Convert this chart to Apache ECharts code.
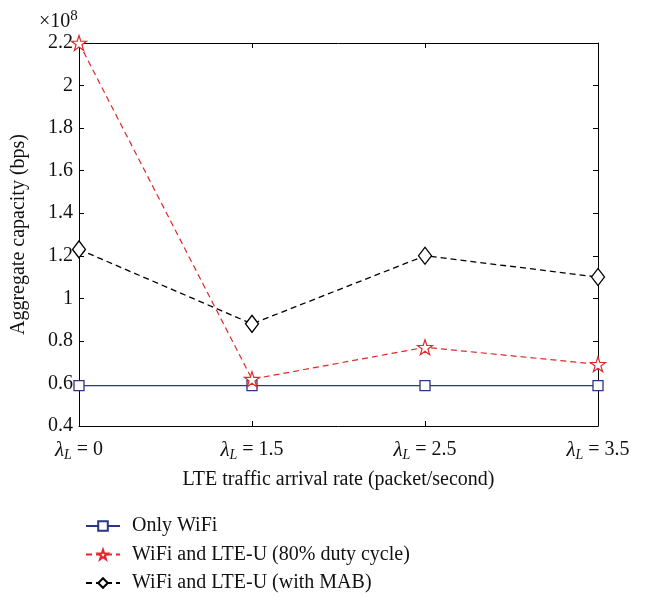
<!DOCTYPE html>
<html>
<head>
<meta charset="utf-8">
<script src="https://cdn.jsdelivr.net/npm/echarts@6/dist/echarts.min.js"></script>
<style>html,body{margin:0;padding:0;background:#fff;}#c{width:655px;height:597px;}</style>
</head>
<body>
<div id="c"></div>
<script>
var categories = ['0', '1.5', '2.5', '3.5'];
var onlyWifi = [0.59, 0.59, 0.59, 0.59];
var lteDuty = [2.2, 0.62, 0.77, 0.69];
var lteMab = [1.23, 0.88, 1.20, 1.10];
var seriesNames = ['Only WiFi', 'WiFi and LTE-U (80% duty cycle)', 'WiFi and LTE-U (with MAB)'];
var yMin = 0.4, yMax = 2.2, yStep = 0.2;

var FONT = '"Liberation Serif", "DejaVu Serif", serif';
var FS = 20;
var starPath = 'path://M50,0 L61.8,35.1 L98.9,35.5 L69.1,57.6 L80.2,93 L50,71.5 L19.8,93 L30.9,57.6 L1.1,35.5 L38.2,35.1 Z';
var chart = echarts.init(document.getElementById('c'));
var tickStyle = {show: true, inside: true, length: 5, lineStyle: {color: '#000', width: 1}};
var option = {
  animation: false,
  backgroundColor: '#fff',
  textStyle: {fontFamily: FONT},
  grid: {left: 79, right: 57, top: 43, bottom: 171, containLabel: false},
  graphic: [{
    type: 'text', left: 39, top: 9,
    style: {
      text: '×10{s|8}',
      rich: {s: {fontSize: 15, verticalAlign: 'top', fontFamily: FONT, padding: [0, 0, 10, 0]}},
      fontSize: FS, fontFamily: FONT, fill: '#111'
    }
  }],
  xAxis: [{
    type: 'category', data: categories, boundaryGap: false, position: 'bottom',
    axisLine: {lineStyle: {color: '#000', width: 1}},
    axisTick: tickStyle,
    splitLine: {show: false},
    axisLabel: {
      interval: 0, hideOverlap: false,
      margin: 12, color: '#111', fontSize: FS, fontFamily: FONT,
      formatter: function (v) { return '{g|λ}{sub|L} = ' + v; },
      rich: {
        g: {fontSize: 21, fontStyle: 'italic', fontFamily: FONT, color: '#111'},
        sub: {fontSize: 14, fontStyle: 'italic', fontFamily: FONT, verticalAlign: 'bottom', padding: [10, 0, 0, 0], color: '#111'}
      }
    },
    name: 'LTE traffic arrival rate (packet/second)', nameLocation: 'middle', nameGap: 44,
    nameTextStyle: {fontSize: FS, fontFamily: FONT, color: '#111'}
  }, {
    type: 'category', data: categories, boundaryGap: false, position: 'top',
    axisLine: {lineStyle: {color: '#000', width: 1}},
    axisTick: tickStyle, axisLabel: {show: false}, splitLine: {show: false}
  }],
  yAxis: [{
    type: 'value', min: yMin, max: yMax, interval: yStep,
    axisLine: {show: true, lineStyle: {color: '#000', width: 1}},
    axisTick: tickStyle,
    splitLine: {show: false},
    axisLabel: {
      margin: 6, color: '#111', fontSize: FS, fontFamily: FONT,
      formatter: function (v) { return String(Math.round(v * 10) / 10); }
    },
    name: 'Aggregate capacity (bps)', nameLocation: 'middle', nameGap: 50,
    nameTextStyle: {fontSize: FS, fontFamily: FONT, color: '#111'}
  }, {
    type: 'value', min: yMin, max: yMax, interval: yStep, position: 'right',
    axisLine: {show: true, lineStyle: {color: '#000', width: 1}},
    axisTick: tickStyle, axisLabel: {show: false}, splitLine: {show: false}
  }],
  legend: {
    orient: 'vertical', left: 85, top: 516, padding: 0, itemWidth: 34, itemHeight: 12, itemGap: 8.5,
    textStyle: {fontSize: FS, fontFamily: FONT, color: '#111', padding: [0, 0, 0, 7]},
    data: seriesNames
  },
  series: [{
    name: seriesNames[0], type: 'line', data: onlyWifi, z: 2,
    symbol: 'rect', symbolSize: 10,
    itemStyle: {color: '#fff', borderColor: '#2c3585', borderWidth: 1.3},
    lineStyle: {color: '#2c3585', width: 1.3, type: 'solid'}
  }, {
    name: seriesNames[1], type: 'line', data: lteDuty, z: 3,
    symbol: starPath, symbolSize: 15,
    itemStyle: {color: '#fff', borderColor: '#e0282a', borderWidth: 1.2},
    lineStyle: {color: '#e0282a', width: 1.2, type: [6, 4]}
  }, {
    name: seriesNames[2], type: 'line', data: lteMab, z: 4,
    symbol: 'diamond', symbolSize: [13, 17],
    itemStyle: {color: '#fff', borderColor: '#000', borderWidth: 1.3},
    lineStyle: {color: '#000', width: 1.3, type: [6, 4]}
  }]
};
chart.setOption(option);
</script>
</body>
</html>
